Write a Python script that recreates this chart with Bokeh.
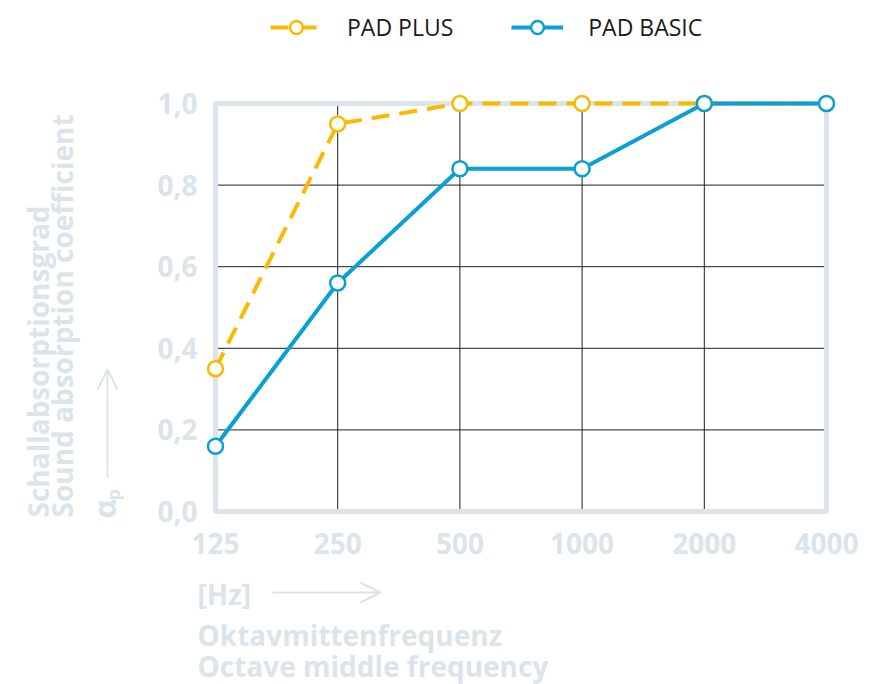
from bokeh.plotting import figure
from bokeh.models import Range1d, Label, Arrow, OpenHead, Legend, LegendItem
from bokeh.embed import file_html
from bokeh.resources import INLINE

# ---- data ----
freqs = [125, 250, 500, 1000, 2000, 4000]
freq_labels = ["125", "250", "500", "1000", "2000", "4000"]
pad_plus = [0.35, 0.95, 1.0, 1.0, 1.0, 1.0]
pad_basic = [0.16, 0.56, 0.84, 0.84, 1.0, 1.0]
y_ticks = [0.0, 0.2, 0.4, 0.6, 0.8, 1.0]
y_tick_labels = ["0,0", "0,2", "0,4", "0,6", "0,8", "1,0"]
grid_x = [250, 500, 1000, 2000]
grid_y = [0.2, 0.4, 0.6, 0.8]

ORANGE = "#fbba00"
BLUE = "#0aa0d4"
LIGHT = "#dbe4ea"
FONT = "Open Sans"

W, H = 875, 684
# plot area (pixels) inside the canvas
PL, PR, PT, PB = 215, 826, 103, 511
oct_px = (PR - PL) / 5.0
unit_px = (PB - PT) / 1.0

x_range = Range1d(freqs[0] / 2 ** (PL / oct_px), freqs[-1] * 2 ** ((W - PR) / oct_px))
y_range = Range1d(y_ticks[0] - (H - PB) / unit_px, y_ticks[-1] + PT / unit_px)

p = figure(width=W, height=H, x_axis_type="log", x_range=x_range, y_range=y_range,
           output_backend="svg", toolbar_location=None,
           x_axis_location=None, y_axis_location=None,
           min_border=0)
p.min_border_left = p.min_border_right = p.min_border_top = p.min_border_bottom = 0
p.outline_line_color = None
p.xgrid.visible = False
p.ygrid.visible = False

# grid lines
p.segment(x0=grid_x, y0=[y_ticks[0]] * len(grid_x), x1=grid_x, y1=[y_ticks[-1]] * len(grid_x),
          line_color="#1e1e1e", line_width=1)
p.segment(x0=[freqs[0]] * len(grid_y), y0=grid_y, x1=[freqs[-1]] * len(grid_y), y1=grid_y,
          line_color="#1e1e1e", line_width=1)
# frame
p.quad(left=[freqs[0]], right=[freqs[-1]], bottom=[y_ticks[0]], top=[y_ticks[-1]],
       fill_color=None, line_color=LIGHT, line_width=5)

# series
l1 = p.line(freqs, pad_plus, line_color=ORANGE, line_width=4, line_dash="18 10")
s1 = p.scatter(freqs, pad_plus, size=15, marker="circle", fill_color="white",
               line_color=ORANGE, line_width=2.5)
l2 = p.line(freqs, pad_basic, line_color=BLUE, line_width=4)
s2 = p.scatter(freqs, pad_basic, size=15, marker="circle", fill_color="white",
               line_color=BLUE, line_width=2.5)

legend = Legend(items=[LegendItem(label="PAD PLUS", renderers=[l1, s1]),
                       LegendItem(label="PAD BASIC", renderers=[l2, s2])],
                orientation="horizontal", location=(270, H - 43),
                glyph_width=52, glyph_height=32, label_standoff=25, spacing=58,
                padding=0, margin=0, border_line_color=None,
                background_fill_alpha=0,
                label_text_font=FONT, label_text_font_size="23px",
                label_text_color="#1a1a1a")
p.add_layout(legend)


def lab(text, x, y, xu="screen", yu="screen", size="28px", angle=0,
        align="left", baseline="alphabetic"):
    p.add_layout(Label(text=text, x=x, y=y, x_units=xu, y_units=yu,
                       angle=angle, angle_units="deg", text_font=FONT,
                       text_font_style="bold", text_font_size=size,
                       text_color=LIGHT, text_align=align,
                       text_baseline=baseline))


# tick labels
for t, s in zip(y_ticks, y_tick_labels):
    lab(s, 197, t, xu="screen", yu="data", align="right", baseline="middle")
for f, s in zip(freqs, freq_labels):
    lab(s, f, H - 543, xu="data", yu="screen", align="center")

# y title
lab("Schallabsorptionsgrad", 37, H - 517, angle=90)
lab("Sound absorption coefficient", 61, H - 517, angle=90)
lab("α", 104, H - 518, size="30px", angle=90)
lab("p", 112, H - 500, size="18px", angle=90)
p.add_layout(Arrow(end=OpenHead(size=20, line_color=LIGHT, line_width=2),
                   x_start=107, y_start=H - 477, x_end=107, y_end=H - 369,
                   start_units="screen", end_units="screen",
                   line_color=LIGHT, line_width=2))

# x title
lab("[Hz]", 197, H - 593)
p.add_layout(Arrow(end=OpenHead(size=20, line_color=LIGHT, line_width=2),
                   x_start=272, y_start=H - 592, x_end=380, y_end=H - 592,
                   start_units="screen", end_units="screen",
                   line_color=LIGHT, line_width=2))
lab("Oktavmittenfrequenz", 197, H - 634)
lab("Octave middle frequency", 197, H - 665)

open("out.html", "w").write(file_html(p, INLINE))
